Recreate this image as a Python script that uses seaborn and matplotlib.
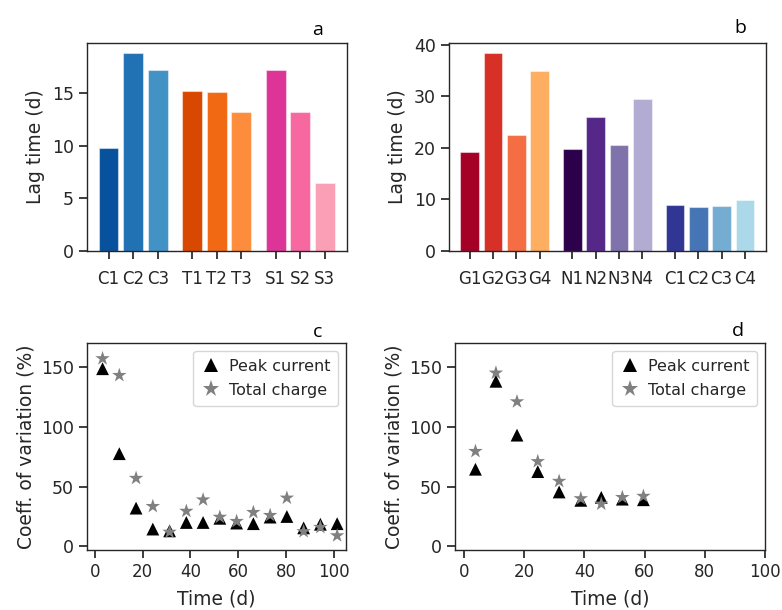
import matplotlib
matplotlib.use("Agg")
import matplotlib.pyplot as plt
import pandas as pd
import seaborn as sns

# ---- lag time, panel a ----
labels_a = ["C1", "C2", "C3", "T1", "T2", "T3", "S1", "S2", "S3"]
lag_a = [9.8, 18.8, 17.2, 15.2, 15.05, 13.2, 17.2, 13.2, 6.5]
colors_a = ["#08519c", "#2171b5", "#4292c6",
            "#d94801", "#f16913", "#fd8d3c",
            "#dd3497", "#f768a1", "#fa9fb5"]
group_sizes_a = [3, 3, 3]

# ---- lag time, panel b ----
labels_b = ["G1", "G2", "G3", "G4", "N1", "N2", "N3", "N4", "C1", "C2", "C3", "C4"]
lag_b = [19.2, 38.4, 22.4, 34.8, 19.7, 25.9, 20.6, 29.4, 9.0, 8.45, 8.7, 9.8]
colors_b = ["#a50026", "#d73027", "#f46d43", "#fdae61",
            "#2d004b", "#542788", "#8073ac", "#b2abd2",
            "#313695", "#4575b4", "#74add1", "#abd9e9"]
group_sizes_b = [4, 4, 4]

# ---- coefficient of variation, panel c ----
time_c = [3.3, 10.3, 17.3, 24.3, 31.3, 38.3, 45.3, 52.3, 59.3, 66.3, 73.3, 80.3, 87.3, 94.3, 101.3]
peak_c = [148.5, 77.5, 32, 14.5, 13, 20, 20, 23.5, 19.5, 19, 24.5, 25, 15.5, 18.5, 19]
charge_c = [157, 143, 57, 33.5, 12, 29.5, 39, 24.5, 21, 28.5, 26, 40.5, 12.5, 16, 9]

# ---- coefficient of variation, panel d ----
time_d = [3.8, 10.6, 17.6, 24.5, 31.6, 38.8, 45.6, 52.6, 59.6]
peak_d = [64.5, 138, 93, 62.5, 45.5, 38.5, 41, 39.5, 39]
charge_d = [79.5, 145, 121, 71, 54.5, 40, 35.5, 41, 42]

series_names = ["Peak current", "Total charge"]

sns.set_theme(style="ticks")
plt.rcParams["font.family"] = ["DejaVu Sans"]
plt.rcParams.update({
    "axes.edgecolor": "0.15",
    "axes.linewidth": 1.0,
    "xtick.labelsize": 12,
    "ytick.labelsize": 12.5,
    "axes.labelsize": 13.5,
    "xtick.color": "0.15",
    "ytick.color": "0.15",
    "text.color": "0.15",
    "axes.labelcolor": "0.15",
})

W, H = 782, 610
fig = plt.figure(figsize=(W / 100, H / 100), dpi=100)


def box(x0, y0, x1, y1):
    return [x0 / W, 1 - y1 / H, (x1 - x0) / W, (y1 - y0) / H]


ax_a = fig.add_axes(box(87, 43, 347, 251))
ax_b = fig.add_axes(box(449, 43, 766, 251))
ax_c = fig.add_axes(box(87, 343, 346, 550))
ax_d = fig.add_axes(box(455, 343, 765, 550))


def group_positions(sizes, gap=0.4):
    pos, start = [], 0.0
    for n in sizes:
        pos.extend(start + i for i in range(n))
        start += n + gap
    return pos


def lag_bars(ax, labels, values, colors, sizes):
    pos = group_positions(sizes)
    df = pd.DataFrame({"pos": pos, "lag": values, "name": labels})
    sns.barplot(data=df, x="pos", y="lag", hue="name", palette=colors,
                native_scale=True, width=0.8, saturation=1, legend=False,
                ax=ax, edgecolor=(1, 1, 1, 0.45), linewidth=0.8)
    ax.set_xticks(pos, labels)
    ax.set_xlim(pos[0] - 0.88, pos[-1] + 0.9)
    ax.set_ylim(0, max(values) * 1.05)
    ax.set_xlabel("")
    ax.set_ylabel("Lag time (d)", labelpad=5)
    ax.tick_params(axis="x", pad=8)


lag_bars(ax_a, labels_a, lag_a, colors_a, group_sizes_a)
lag_bars(ax_b, labels_b, lag_b, colors_b, group_sizes_b)


def cv_scatter(ax, t, peak, charge, xlim):
    df = pd.DataFrame({
        "Time": list(t) + list(t),
        "CV": list(peak) + list(charge),
        "Series": [series_names[0]] * len(t) + [series_names[1]] * len(t),
    })
    sns.scatterplot(data=df, x="Time", y="CV", hue="Series", style="Series",
                    size="Series",
                    sizes={series_names[0]: 85, series_names[1]: 120},
                    palette={series_names[0]: "black", series_names[1]: "#808080"},
                    markers={series_names[0]: "^", series_names[1]: "*"},
                    linewidth=0, ax=ax)
    ax.set_xlim(*xlim)
    ax.set_ylim(-3, 170)
    ax.set_xticks([0, 20, 40, 60, 80, 100])
    ax.set_yticks([0, 50, 100, 150])
    ax.set_xlabel("Time (d)", labelpad=6)
    ax.set_ylabel("Coeff. of variation (%)", labelpad=4)
    sns.move_legend(ax, "upper right", title=None, fontsize=11.5,
                    handlelength=1.2, handletextpad=0.5, borderpad=0.5,
                    labelspacing=0.55, markerscale=1.15)


cv_scatter(ax_c, time_c, peak_c, charge_c, (-3.2, 105))
cv_scatter(ax_d, time_d, peak_d, charge_d, (-3, 100))

panel_font = dict(family=["Open Sans", "DejaVu Sans"], fontsize=14,
                  color="black", ha="center", va="center")
ax_a.text(0.888, 1.062, "a", transform=ax_a.transAxes, **panel_font)
ax_b.text(0.918, 1.072, "b", transform=ax_b.transAxes, **panel_font)
ax_c.text(0.891, 1.053, "c", transform=ax_c.transAxes, **panel_font)
ax_d.text(0.913, 1.058, "d", transform=ax_d.transAxes, **panel_font)

fig.savefig("out.png", dpi=100, facecolor="white")
